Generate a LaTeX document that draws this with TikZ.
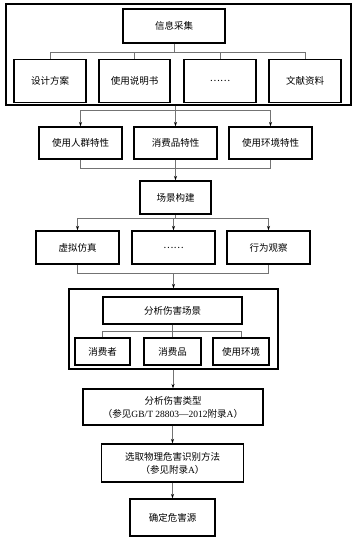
\documentclass[tikz,border=0pt]{standalone}
\usepackage{fontspec}
\setmainfont{Liberation Serif}
\newfontfamily\cjk{Noto Sans CJK SC}
\usetikzlibrary{arrows.meta}
\tikzset{
  box/.style={draw=black, line width=1.1pt, fill=white, inner sep=0pt, align=center,
    font=\cjk\fontsize{9.5}{13}\selectfont},
  frame/.style={draw=black, line width=1.1pt, inner sep=0pt},
  conn/.style={draw=black!55, line width=0.8pt},
  arr/.style={conn, -{Stealth[length=4.5pt,width=3pt,black]}}
}
\begin{document}
\begin{tikzpicture}[x=1pt,y=-1pt]
\useasboundingbox (0,0) rectangle (357,538);
% top frame
\node[frame, minimum width=345pt, minimum height=101pt] (f1) at (178.5,54.5) {};
\node[box, minimum width=102pt, minimum height=34pt] (info) at (174,26) {信息采集};
\node[box, minimum width=72pt, minimum height=43pt] (d1) at (50,81) {设计方案};
\node[box, minimum width=71pt, minimum height=43pt] (d2) at (134.5,81) {使用说明书};
\node[box, minimum width=72pt, minimum height=43pt] (d3) at (220,81) {……};
\node[box, minimum width=72pt, minimum height=43pt] (d4) at (305,81) {文献资料};
\coordinate (j1) at (174,52);
\draw[conn] (info.south) -- (j1);
\draw[conn] (d1.north) -- (d1.north |- j1) -- (d4.north |- j1) -- (d4.north);
\draw[conn] (d2.north) -- (d2.north |- j1);
\draw[conn] (d3.north) -- (d3.north |- j1);
% row 2
\node[box, minimum width=83pt, minimum height=32pt] (r1) at (80.5,143) {使用人群特性};
\node[box, minimum width=83pt, minimum height=32pt] (r2) at (175.5,143) {消费品特性};
\node[box, minimum width=83pt, minimum height=32pt] (r3) at (270.5,143) {使用环境特性};
\coordinate (j2) at (175.5,110);
\draw[conn] (f1.south -| j2) -- (j2);
\draw[conn] (r1.north |- j2) -- (r3.north |- j2);
\draw[arr] (r1.north |- j2) -- (r1.north);
\draw[arr] (r2.north |- j2) -- (r2.north);
\draw[arr] (r3.north |- j2) -- (r3.north);
% scene
\node[box, minimum width=71pt, minimum height=33pt] (sc) at (175.5,197.5) {场景构建};
\coordinate (j3) at (175.5,168);
\draw[conn] (r1.south) -- (r1.south |- j3) -- (r3.south |- j3) -- (r3.south);
\draw[conn] (r2.south) -- (r2.south |- j3);
\draw[arr] (j3) -- (sc.north);
% row 3
\node[box, minimum width=83pt, minimum height=33pt] (s1) at (77.5,247.5) {虚拟仿真};
\node[box, minimum width=83pt, minimum height=33pt] (s2) at (173.5,247.5) {……};
\node[box, minimum width=83pt, minimum height=33pt] (s3) at (268.5,247.5) {行为观察};
\coordinate (j4) at (175.5,218);
\draw[conn] (sc.south) -- (j4);
\draw[conn] (s1.north |- j4) -- (s3.north |- j4);
\draw[arr] (s1.north |- j4) -- (s1.north);
\draw[arr] (s2.north |- j4) -- (s2.north);
\draw[arr] (s3.north |- j4) -- (s3.north);
% frame 2
\node[frame, minimum width=209pt, minimum height=80pt] (f2) at (173.5,329) {};
\coordinate (j5) at (173.5,273);
\draw[conn] (s1.south) -- (s1.south |- j5) -- (s3.south |- j5) -- (s3.south);
\draw[arr] (j5) -- (f2.north);
\node[box, minimum width=139pt, minimum height=27pt] (ah) at (172.5,310.5) {分析伤害场景};
\node[box, minimum width=55pt, minimum height=27pt] (t1) at (102.5,351.5) {消费者};
\node[box, minimum width=57pt, minimum height=27pt] (t2) at (172.5,351.5) {消费品};
\node[box, minimum width=56pt, minimum height=27pt] (t3) at (241,351.5) {使用环境};
\coordinate (j6) at (172.5,331);
\draw[conn] (ah.south) -- (j6);
\draw[conn] (t1.north) -- (t1.north |- j6) -- (t3.north |- j6) -- (t3.north);
\draw[conn] (t2.north) -- (t2.north |- j6);
% lower chain
\node[box, minimum width=180pt, minimum height=36pt] (h1) at (173,407)
  {分析伤害类型\\（参见{\rmfamily GB/T 28803—2012}附录{\rmfamily A}）};
\node[box, minimum width=142pt, minimum height=38pt] (h2) at (172.5,463)
  {选取物理危害识别方法\\（参见附录{\rmfamily A}）};
\node[box, minimum width=85pt, minimum height=37pt] (h3) at (172.5,517.5) {确定危害源};
\draw[arr] (f2.south -| h1) -- (h1.north);
\draw[arr] (h1.south -| h2) -- (h2.north);
\draw[arr] (h2.south -| h3) -- (h3.north);
\end{tikzpicture}
\end{document}
